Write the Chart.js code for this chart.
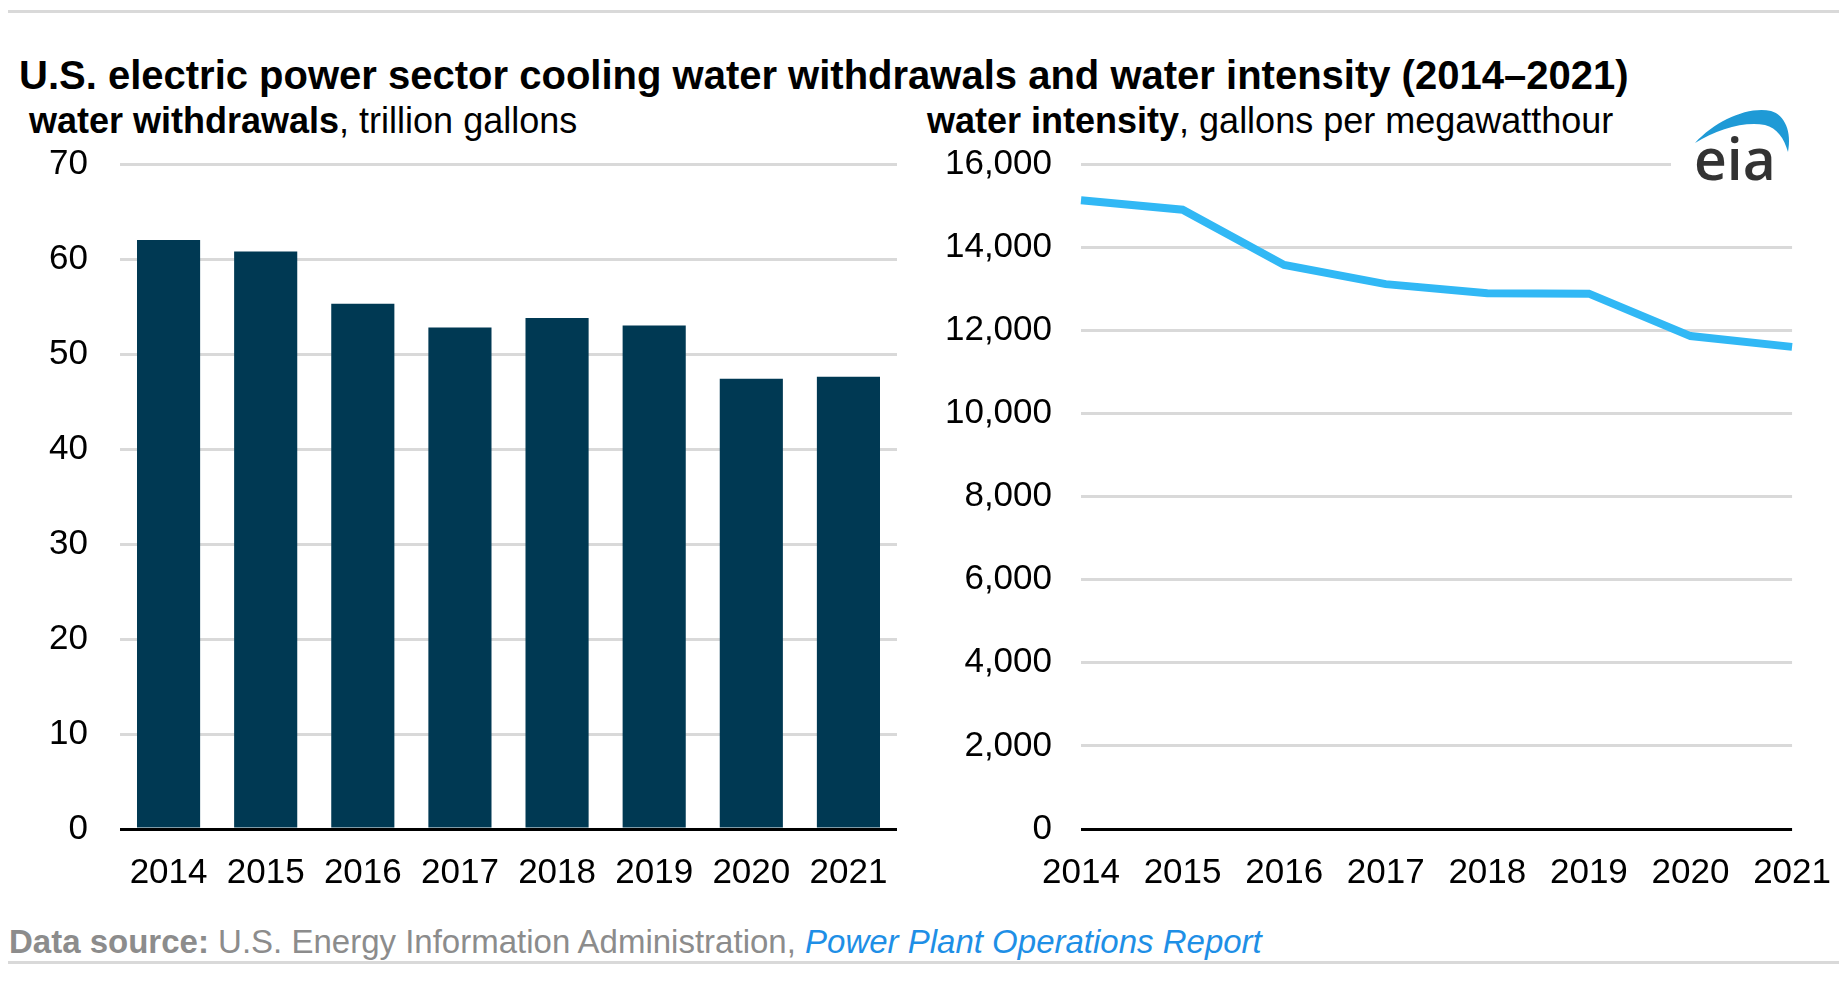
<!DOCTYPE html>
<html>
<head>
<meta charset="utf-8">
<script src="https://cdn.jsdelivr.net/npm/chart.js@4.4.1/dist/chart.umd.min.js"></script>
<style>
  body { margin: 0; width: 1839px; height: 986px; background: #fff; overflow: hidden; position: relative; font-family: "Liberation Sans", Arial, sans-serif; }
  .rule { position: absolute; left: 8px; right: 0; height: 3px; background: #d9d9d9; }
  .txt { position: absolute; white-space: nowrap; line-height: 1; color: #000; }
  .box { position: absolute; }
</style>
</head>
<body>
<div class="rule" style="top:10px"></div>
<div class="txt" style="left:19px; top:55px; font-size:40px; font-weight:bold;">U.S. electric power sector cooling water withdrawals and water intensity (2014–2021)</div>
<div class="txt" style="left:29px; top:103px; font-size:36px;"><b>water withdrawals</b>, trillion gallons</div>
<div class="txt" style="left:927px; top:103px; font-size:36px;"><b>water intensity</b>, gallons per megawatthour</div>

<div class="box" style="left:0; top:111px;"><canvas id="barChart" width="930" height="789"></canvas></div>
<div class="box" style="left:930px; top:114px;"><canvas id="lineChart" width="916" height="786"></canvas></div>

<div class="box" style="left:1671px; top:100px; width:140px; height:95px; background:#fff;">
  <svg width="140" height="95" viewBox="0 0 140 95">
    <path d="M24,43 C45,20 78,6 100,11 C114,15 121,32 117,52 C113,38 106,28 94,25 C74,21 46,29 24,43 Z" fill="#1f9ad6"/>
    <text x="23" y="80" font-family="Open Sans" font-weight="600" font-size="57" fill="#333">eia</text>
  </svg>
</div>

<div class="txt" style="left:9px; top:925px; font-size:33px; color:#8c8c8c;"><b>Data source:</b> U.S. Energy Information Administration, <i style="color:#1e8fe6">Power Plant Operations Report</i></div>
<div class="rule" style="top:961px"></div>

<script>
const years = ["2014", "2015", "2016", "2017", "2018", "2019", "2020", "2021"];
const withdrawals = [62.0, 60.8, 55.3, 52.8, 53.8, 53.0, 47.4, 47.6];
const intensity = [15130, 14900, 13570, 13110, 12890, 12880, 11860, 11600];

const withdrawalMax = 70;
const withdrawalStep = 10;
const intensityMax = 16000;
const intensityStep = 2000;

const fontFamily = '"Liberation Sans", Arial, sans-serif';
const tickFont = { family: fontFamily, size: 35 };

// the zero line is black, the rest light grey
function gridColor(ctx) {
    return ctx.tick && ctx.tick.value === 0 ? "#000000" : "#d9d9d9";
}

const common = {
    responsive: false,
    devicePixelRatio: 1,
    animation: false,
    plugins: { legend: { display: false }, tooltip: { enabled: false } },
};

new Chart(document.getElementById("barChart").getContext("2d"), {
    type: "bar",
    data: {
        labels: years,
        datasets: [
            {
                data: withdrawals,
                backgroundColor: "#003953",
                categoryPercentage: 1.0,
                barPercentage: 0.65,
            },
        ],
    },
    options: {
        ...common,
        layout: { padding: { top: 0, right: 33, bottom: 0, left: 0 } },
        scales: {
            x: {
                grid: { display: false },
                border: { display: false },
                ticks: { color: "#000", font: tickFont, padding: 15, maxRotation: 0 },
                afterFit: function (scale) { scale.height = 71; },
            },
            y: {
                min: 0,
                max: withdrawalMax,
                grid: { color: gridColor, lineWidth: 3, drawTicks: false },
                border: { display: false },
                ticks: { color: "#000", font: tickFont, padding: 32, stepSize: withdrawalStep },
                afterFit: function (scale) { scale.width = 120; },
            },
        },
    },
});

new Chart(document.getElementById("lineChart").getContext("2d"), {
    type: "line",
    data: {
        labels: years,
        datasets: [
            {
                data: intensity,
                borderColor: "#31b8f5",
                borderWidth: 8,
                pointRadius: 0,
                tension: 0,
                fill: false,
            },
        ],
    },
    options: {
        ...common,
        layout: { padding: 0 },
        scales: {
            x: {
                offset: false,
                grid: { display: false },
                border: { display: false },
                ticks: { color: "#000", font: tickFont, padding: 15, maxRotation: 0 },
                afterFit: function (scale) { scale.height = 71; },
            },
            y: {
                min: 0,
                max: intensityMax,
                grid: { color: gridColor, lineWidth: 3, drawTicks: false },
                border: { display: false },
                ticks: { color: "#000", font: tickFont, padding: 29, stepSize: intensityStep },
                afterFit: function (scale) { scale.width = 151; },
            },
        },
    },
});
</script>
</body>
</html>
